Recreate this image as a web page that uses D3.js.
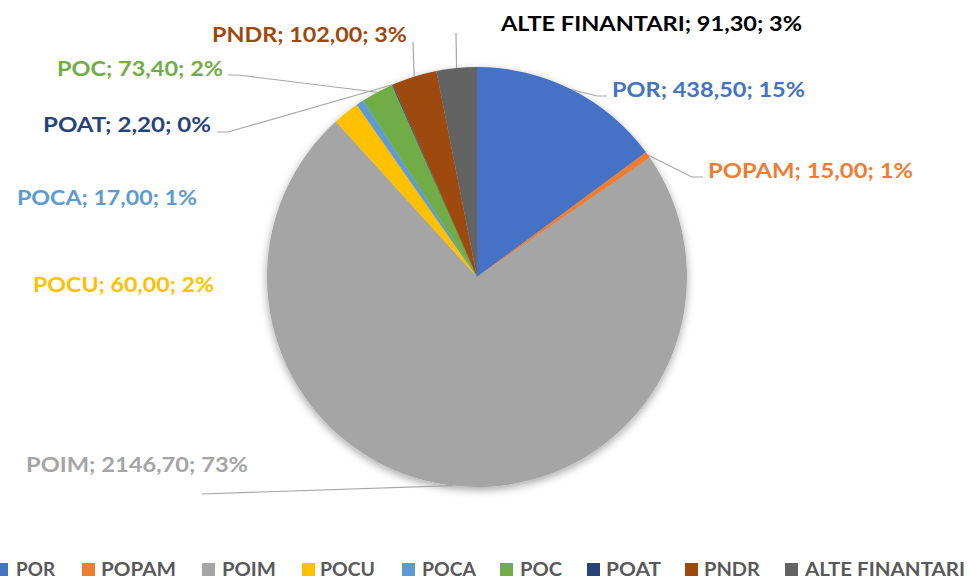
<!DOCTYPE html>
<html>
<head>
<meta charset="utf-8">
<script src="https://cdn.jsdelivr.net/npm/d3@7"></script>
<style>
  html, body { margin: 0; padding: 0; background: #fff; }
  svg { display: block; }
  text { font-family: Lato, "Open Sans", sans-serif; font-weight: bold; }
</style>
</head>
<body>
<svg id="chart" width="969" height="580"></svg>
<script>
// ---- data ----
const categories = ["POR", "POPAM", "POIM", "POCU", "POCA", "POC", "POAT", "PNDR", "ALTE FINANTARI"];
const values = [438.50, 15.00, 2146.70, 60.00, 17.00, 73.40, 2.20, 102.00, 91.30];
const colors = ["#4472C4", "#ED7D31", "#A5A5A5", "#FFC000", "#5B9BD5", "#70AD47", "#264478", "#9E480E", "#636363"];
const labelColors = ["#4472C4", "#ED7D31", "#A5A5A5", "#FFC000", "#5B9BD5", "#70AD47", "#264478", "#9E480E", "#000000"];

// ---- layout (positions only) ----
const cx = 477, cy = 277, R = 210;
const labelLayout = [
  { x: 612, y: 97,  w: 193, leader: [[607, 96], [597, 96]] },
  { x: 708, y: 178, w: 205, leader: [[703, 177], [692, 177]] },
  { x: 26,  y: 472, w: 222, leader: [[202, 494]] },
  { x: 33,  y: 292, w: 181, leader: null },
  { x: 17,  y: 205, w: 180, leader: null },
  { x: 57,  y: 76,  w: 166, leader: [[228, 75], [238, 75]] },
  { x: 43,  y: 132, w: 168, leader: [[217, 132], [228, 132]] },
  { x: 212, y: 42,  w: 195, leader: [[413, 42]] },
  { x: 501, y: 31,  w: 301, leader: [[456, 33]] }
];
const legendLayout = [
  { sx: -5, tx: 16, tw: 39 },
  { sx: 82, tx: 101, tw: 75 },
  { sx: 202, tx: 222, tw: 54 },
  { sx: 302, tx: 320, tw: 55 },
  { sx: 402, tx: 422, tw: 54 },
  { sx: 500, tx: 520, tw: 42 },
  { sx: 587, tx: 606, tw: 55 },
  { sx: 685, tx: 704, tw: 56 },
  { sx: 785, tx: 805, tw: 160 }
];

const svg = d3.select("#chart");
const total = d3.sum(values);
const data = categories.map((c, i) => ({ name: c, value: values[i], i }));

const defs = svg.append("defs");
const f = defs.append("filter").attr("id", "shadow")
  .attr("x", "-20%").attr("y", "-20%").attr("width", "140%").attr("height", "140%");
f.append("feDropShadow").attr("dx", 0).attr("dy", 3).attr("stdDeviation", 4)
  .attr("flood-color", "#000").attr("flood-opacity", 0.35);

const pie = d3.pie().value(d => d.value).sort(null);
const arcs = pie(data);
const arc = d3.arc().innerRadius(0).outerRadius(R);

const g = svg.append("g").attr("transform", `translate(${cx},${cy})`);
g.append("g").attr("filter", "url(#shadow)")
  .selectAll("path").data(arcs).join("path")
  .attr("d", arc)
  .attr("fill", d => colors[d.data.i]);

const fmt = v => v.toFixed(2).replace(".", ",");
arcs.forEach(a => {
  const L = labelLayout[a.data.i];
  if (!L.leader) return;
  const mid = (a.startAngle + a.endAngle) / 2;
  const px = cx + R * Math.sin(mid), py = cy - R * Math.cos(mid);
  const pts = L.leader.concat([[px, py]]);
  svg.append("path")
    .attr("d", d3.line()(pts))
    .attr("fill", "none")
    .attr("stroke", "#A6A6A6")
    .attr("stroke-width", 1.2);
});

arcs.forEach(a => {
  const L = labelLayout[a.data.i];
  const pct = Math.round(a.data.value / total * 100);
  svg.append("text")
    .attr("x", L.x).attr("y", L.y)
    .attr("font-size", 21)
    .attr("fill", labelColors[a.data.i])
    .attr("textLength", L.w)
    .attr("lengthAdjust", "spacingAndGlyphs")
    .text(`${a.data.name}; ${fmt(a.data.value)}; ${pct}%`);
});

const lg = svg.append("g");
categories.forEach((c, i) => {
  const L = legendLayout[i];
  lg.append("rect").attr("x", L.sx).attr("y", 563).attr("width", 13).attr("height", 13)
    .attr("fill", colors[i]);
  lg.append("text").attr("x", L.tx).attr("y", 576)
    .attr("font-size", 18).attr("fill", "#595959")
    .attr("textLength", L.tw).attr("lengthAdjust", "spacingAndGlyphs")
    .text(c);
});
</script>
</body>
</html>
